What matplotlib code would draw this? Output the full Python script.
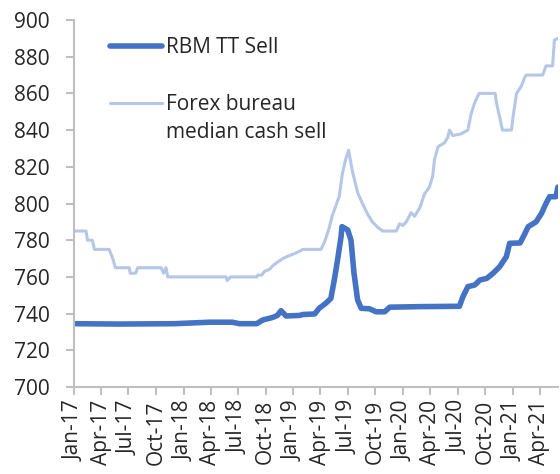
import matplotlib
matplotlib.use('Agg')
import numpy as np
import pandas as pd
from matplotlib import pyplot as plt
import matplotlib.dates as mdates
from matplotlib.lines import Line2D

plt.rcParams['font.family'] = ['Open Sans', 'DejaVu Sans']

# RBM TT sell rate (MWK per USD)
rbm_dates = [
    '2017-01-01', '2017-06-01', '2017-12-01', '2018-03-27', '2018-06-12',
    '2018-07-06', '2018-09-01', '2018-09-21', '2018-10-24', '2018-11-09',
    '2018-11-21', '2018-12-08', '2019-01-22', '2019-02-02', '2019-03-13',
    '2019-03-28', '2019-04-19', '2019-05-06', '2019-05-17', '2019-05-28',
    '2019-06-09', '2019-06-12', '2019-07-01', '2019-07-12', '2019-07-22',
    '2019-08-03', '2019-08-15', '2019-09-12', '2019-10-03', '2019-11-01',
    '2019-11-18', '2020-03-01', '2020-07-07', '2020-07-18', '2020-08-04',
    '2020-08-27', '2020-09-13', '2020-10-06', '2020-10-27', '2020-11-18',
    '2020-12-10', '2020-12-21', '2021-01-25', '2021-02-10', '2021-02-21',
    '2021-03-19', '2021-04-06', '2021-04-21', '2021-05-03', '2021-05-24',
    '2021-05-31',
]
rbm_values = [
    734.5, 734.3, 734.5, 735.3, 735.3,
    734.5, 734.5, 736.5, 737.9, 739.0,
    741.6, 738.7, 739.0, 739.5, 739.8,
    742.9, 745.6, 748.3, 758.0, 769.0,
    782.0, 787.4, 785.6, 780.0, 762.0,
    747.4, 742.9, 742.6, 741.0, 741.0,
    743.5, 743.8, 744.0, 749.0, 754.7,
    755.6, 758.3, 759.2, 762.0, 765.6,
    771.0, 778.3, 778.5, 783.7, 787.4,
    790.0, 794.6, 800.0, 803.7, 803.7,
    809.0,
]

# Forex bureau median cash sell rate
fx_dates = [
    '2017-01-01', '2017-02-10', '2017-02-15', '2017-03-03', '2017-03-10',
    '2017-04-28', '2017-05-10', '2017-05-19', '2017-07-04', '2017-07-07',
    '2017-07-25', '2017-08-01', '2017-10-18', '2017-10-26', '2017-11-03',
    '2017-11-09', '2018-05-22', '2018-05-26', '2018-06-06', '2018-09-01',
    '2018-09-05', '2018-09-18', '2018-09-27', '2018-10-13', '2018-10-24',
    '2018-11-09', '2018-11-27', '2018-12-10', '2019-01-09', '2019-01-22',
    '2019-02-02', '2019-04-03', '2019-04-15', '2019-05-01', '2019-05-10',
    '2019-06-03', '2019-06-13', '2019-06-24', '2019-07-04', '2019-07-16',
    '2019-08-03', '2019-08-19', '2019-09-06', '2019-09-21', '2019-10-09',
    '2019-10-25', '2019-12-10', '2019-12-21', '2020-01-01', '2020-01-12',
    '2020-01-28', '2020-02-09', '2020-02-27', '2020-03-12', '2020-03-29',
    '2020-04-09', '2020-04-15', '2020-04-27', '2020-05-18', '2020-05-29',
    '2020-06-04', '2020-06-15', '2020-07-13', '2020-08-04', '2020-08-15',
    '2020-08-27', '2020-09-10', '2020-11-03', '2020-11-07', '2020-11-18',
    '2020-11-27', '2020-12-27', '2021-01-03', '2021-01-13', '2021-01-29',
    '2021-02-10', '2021-02-15', '2021-04-10', '2021-04-21', '2021-05-13',
    '2021-05-19', '2021-05-31',
]
fx_values = [
    785, 785, 780, 780, 775,
    775, 770, 765, 765, 762,
    762, 765, 765, 762, 765,
    760, 760, 758, 760, 760,
    761, 761, 763, 764, 766,
    768, 770, 771, 773, 774,
    775, 775, 779, 787, 793,
    804, 816, 824, 829, 818,
    806, 800, 794, 790, 787,
    785, 785, 789, 788, 790,
    795, 793, 798, 805, 809,
    815, 824, 831, 833, 836,
    840, 837, 838, 840, 849,
    855, 860, 860, 855, 847,
    840, 840, 849, 860, 864,
    869, 870, 870, 875, 875,
    889, 890,
]

y_ticks = np.arange(700, 901, 20)

if __name__ == '__main__':
    fig = plt.figure(figsize=(5.6, 4.74), dpi=100)
    ax = fig.add_axes([74 / 560, 1 - 387 / 474, 484 / 560, 367 / 474])

    ax.plot(pd.to_datetime(fx_dates), fx_values, color='#B4C7E7', lw=2.2,
            solid_capstyle='round', solid_joinstyle='round')
    ax.plot(pd.to_datetime(rbm_dates), rbm_values, color='#4472C4', lw=4,
            solid_capstyle='round', solid_joinstyle='round')

    ax.set_ylim(700, 900)
    ax.set_yticks(y_ticks)
    ax.set_xlim(pd.Timestamp('2017-01-01'), pd.Timestamp('2021-05-31'))
    ax.xaxis.set_major_locator(mdates.MonthLocator(bymonth=[1, 4, 7, 10]))
    ax.xaxis.set_major_formatter(mdates.DateFormatter('%b-%y'))
    plt.setp(ax.get_xticklabels(), rotation=90)

    for side in ('top', 'right'):
        ax.spines[side].set_visible(False)
    for side in ('left', 'bottom'):
        ax.spines[side].set_color('#BFBFBF')
        ax.spines[side].set_linewidth(1.5)
    ax.tick_params(colors='#BFBFBF', width=1.5, length=5.5, labelsize=15,
                   labelcolor='#262626')
    ax.tick_params(axis='y', pad=12)
    ax.tick_params(axis='x', pad=4)

    handles = [
        Line2D([], [], color='#4472C4', lw=4, solid_capstyle='round'),
        Line2D([], [], color='none'),
        Line2D([], [], color='#B4C7E7', lw=2.2, solid_capstyle='round'),
        Line2D([], [], color='none'),
    ]
    labels = ['RBM TT Sell', ' ', 'Forex bureau', 'median cash sell']
    leg = ax.legend(handles, labels, loc='upper left', bbox_to_anchor=(0.074, 0.953),
                    frameon=False, fontsize=15, handlelength=2.5,
                    handletextpad=0.2, labelspacing=0.35, borderpad=0,
                    borderaxespad=0)
    for t in leg.get_texts():
        t.set_color('#262626')

    fig.savefig('out.png', dpi=100)
